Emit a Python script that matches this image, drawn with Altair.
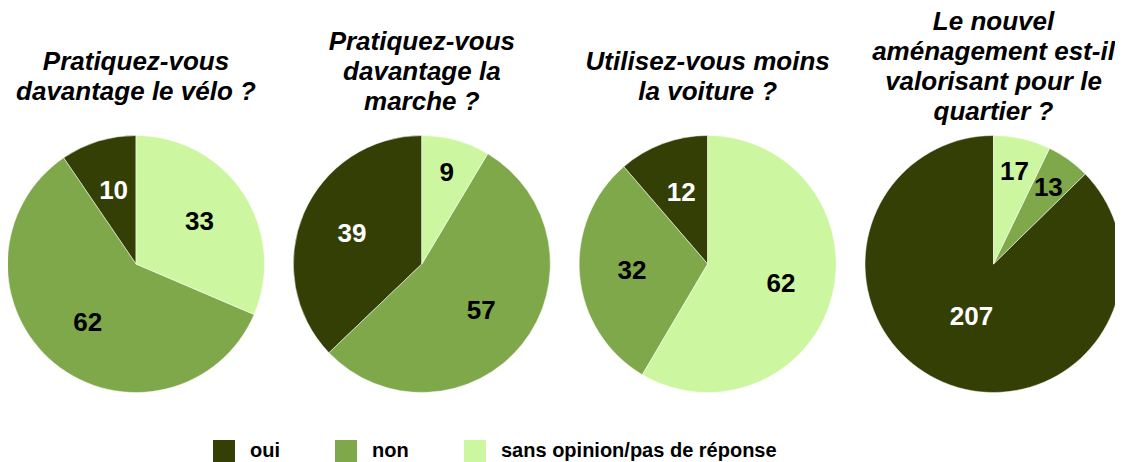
import math
import altair as alt
import pandas as pd

questions = [
    "Pratiquez-vous\ndavantage le vélo ?",
    "Pratiquez-vous\ndavantage la\nmarche ?",
    "Utilisez-vous moins\nla voiture ?",
    "Le nouvel\naménagement est-il\nvalorisant pour le\nquartier ?",
]
categories = ["oui", "non", "sans opinion/pas de réponse"]
oui = [10, 39, 12, 207]
non = [62, 57, 32, 13]
sans_opinion = [33, 9, 62, 17]
colors = ["#333f05", "#7ea84a", "#ccf7a0"]

series = {"oui": oui, "non": non, "sans opinion/pas de réponse": sans_opinion}
stack_order = {"sans opinion/pas de réponse": 0, "non": 1, "oui": 2}
rows = []
for i, q in enumerate(questions):
    for c in categories:
        rows.append({"q": q, "category": c, "value": series[c][i], "ord": stack_order[c]})
df = pd.DataFrame(rows)
titles_df = pd.DataFrame({"q": questions})

TAU = 2 * math.pi
FONT = "Liberation Sans"
CY = 256

xscale = alt.Scale(type="point", domain=questions, range=[128, 985.5], padding=0)
theta_scale = alt.Scale(domain=[0, 1], range=[0, TAU])

base = (
    alt.Chart(df)
    .transform_stack(
        stack="value",
        groupby=["q"],
        as_=["s0", "s1"],
        offset="normalize",
        sort=[alt.SortField("ord", order="ascending")],
    )
    .transform_calculate(
        mid="(datum.s0 + datum.s1) / 2",
        frac="datum.s1 - datum.s0",
    )
    .transform_calculate(
        lr="datum.frac < 0.09 ? 94 : (datum.frac > 0.8 ? 57 : 76)"
    )
)

arcs = base.mark_arc(outerRadius=128.5, stroke="white", strokeWidth=0.5).encode(
    x=alt.X("q:N", scale=xscale, axis=None),
    y=alt.value(CY),
    theta=alt.Theta("s0:Q", scale=theta_scale),
    theta2="s1",
    color=alt.Color(
        "category:N",
        scale=alt.Scale(domain=categories, range=colors),
        legend=alt.Legend(
            orient="none",
            legendX=205,
            legendY=432,
            direction="horizontal",
            title=None,
            symbolType="square",
            symbolSize=484,
            symbolStrokeWidth=0,
            symbolOpacity=1,
            labelFont=FONT,
            labelFontSize=20,
            labelFontWeight="bold",
            labelColor="black",
            labelOffset=15,
            columnPadding=55,
            labelLimit=400,
        ),
    ),
)

labels = base.mark_text(font=FONT, fontSize=26, fontWeight="bold").encode(
    x=alt.X("q:N", scale=xscale, axis=None),
    y=alt.value(CY),
    theta=alt.Theta("mid:Q", scale=theta_scale),
    radius=alt.Radius("lr:Q", scale=None),
    text="value:Q",
    color=alt.condition(alt.datum.category == "oui", alt.value("white"), alt.value("black")),
)

titles = (
    alt.Chart(titles_df)
    .transform_calculate(ty="94 - 20 * length(split(datum.q, '\\n'))")
    .mark_text(
        font=FONT,
        fontSize=26,
        fontWeight="bold",
        fontStyle="italic",
        lineBreak="\n",
        lineHeight=30,
        baseline="middle",
        align="center",
        color="black",
    )
    .encode(
        x=alt.X("q:N", scale=xscale, axis=None),
        y=alt.Y("ty:Q", scale=None),
        text="q:N",
    )
)

chart = (
    alt.layer(arcs, labels, titles)
    .properties(width=1107, height=454, autosize="none", padding=0)
    .configure_view(stroke=None)
)

chart.save("out.html", embed_options={"renderer": "svg", "actions": False})
